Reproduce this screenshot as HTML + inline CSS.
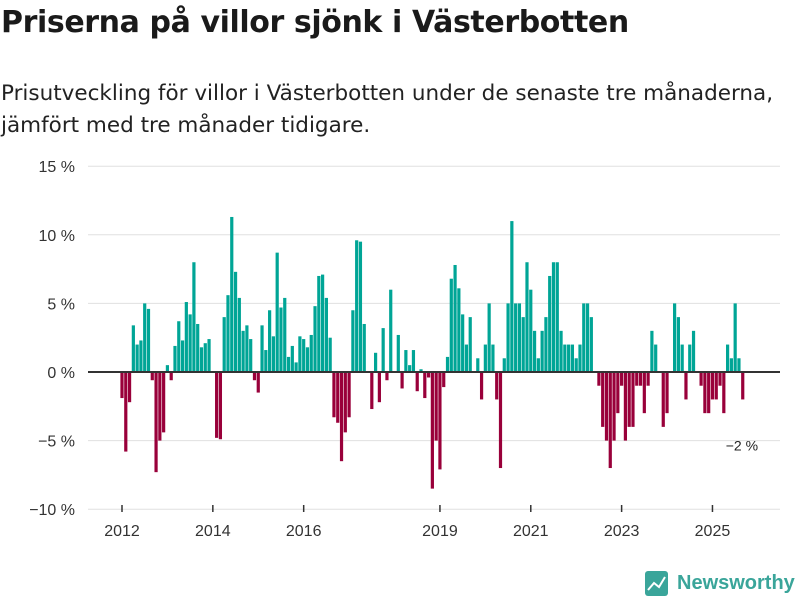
<!DOCTYPE html>
<html><head><meta charset="utf-8"><style>
body{margin:0;background:#fff;font-family:"Liberation Sans",sans-serif;}
#wrap{position:relative;width:800px;height:600px;overflow:hidden;}
h1{position:absolute;left:1px;top:5px;margin:0;font-family:"DejaVu Sans",sans-serif;font-size:30px;font-weight:bold;color:#1a1a1a;letter-spacing:-0.4px;white-space:nowrap;}
p.sub{position:absolute;left:1px;top:78px;margin:0;font-family:"DejaVu Sans",sans-serif;font-size:21.5px;line-height:32px;color:#222;white-space:nowrap;}
</style></head><body>
<div id="wrap">
<h1>Priserna på villor sjönk i Västerbotten</h1>
<p class="sub">Prisutveckling för villor i Västerbotten under de senaste tre månaderna,<br>jämfört med tre månader tidigare.</p>
<svg id="chart" width="800" height="600" style="position:absolute;left:0;top:0"></svg>
</div>
<script>
const values = [-1.9,-5.8,-2.2,3.4,2.0,2.3,5.0,4.6,-0.6,-7.3,
-5.0,-4.4,0.5,-0.6,1.9,3.7,2.3,5.1,4.2,8.0,
3.5,1.8,2.1,2.4,0,-4.8,-4.9,4.0,5.6,11.3,
7.3,5.4,3.0,3.4,2.4,-0.6,-1.5,3.4,1.6,4.5,
2.6,8.7,4.7,5.4,1.1,1.9,0.7,2.6,2.4,1.8,
2.7,4.8,7.0,7.1,5.4,2.5,-3.3,-3.7,-6.5,-4.4,
-3.3,4.5,9.6,9.5,3.5,0,-2.7,1.4,-2.2,3.2,
-0.6,6.0,0,2.7,-1.2,1.6,0.5,1.6,-1.4,0.2,
-1.9,-0.4,-8.5,-5.0,-7.1,-1.1,1.1,6.8,7.8,6.1,
4.2,2.0,4.0,0,1.0,-2.0,2.0,5.0,2.0,-2.0,
-7.0,1.0,5.0,11.0,5.0,5.0,4.0,8.0,6.0,3.0,
1.0,3.0,4.0,7.0,8.0,8.0,3.0,2.0,2.0,2.0,
1.0,2.0,5.0,5.0,4.0,0,-1.0,-4.0,-5.0,-7.0,
-5.0,-3.0,-1.0,-5.0,-4.0,-4.0,-1.0,-1.0,-3.0,-1.0,
3.0,2.0,0,-4.0,-3.0,0,5.0,4.0,2.0,-2.0,
2.0,3.0,0,-1.0,-3.0,-3.0,-2.0,-2.0,-1.0,-3.0,
2.0,1.0,5.0,1.0,-2.0];
const yTicks = [15,10,5,0,-5,-10];
const yTickLabels = ["15 %","10 %","5 %","0 %","−5 %","−10 %"];
const xTickYears = [2012,2014,2016,2019,2021,2023,2025];
const startYear = 2012;
const lastLabel = "−2 %";

const NS="http://www.w3.org/2000/svg";
const svg=document.getElementById('chart');
function xScale(i){return 122+i*3.785;}
function yScale(v){return 372-v*13.72;}
function mk(tag,attrs,parent){const e=document.createElementNS(NS,tag);for(const k in attrs)e.setAttribute(k,attrs[k]);(parent||svg).appendChild(e);return e;}

yTicks.forEach((t,k)=>{
  if(t!==0){
    const g=mk('line',{x1:88,x2:780,y1:yScale(t),y2:yScale(t),stroke:'#e0e0e0','stroke-width':1});
    
    
  }
  const tx=mk('text',{x:75,y:yScale(t)+6,'text-anchor':'end','font-size':16,fill:'#333','font-family':'Liberation Sans, sans-serif'});
  tx.textContent=yTickLabels[k];
  
  
});

values.forEach((v,i)=>{
  const y0=yScale(0),y1=yScale(v);
  const r=mk('rect',{x:xScale(i)-1.6,y:Math.min(y0,y1),width:3.2,height:Math.abs(y1-y0),fill:v>=0?'#00a596':'#99003a'});
  
  
});

const z=mk('line',{x1:88,x2:780,y1:yScale(0),y2:yScale(0),stroke:'#333','stroke-width':2});



xTickYears.forEach(yr=>{
  const x=xScale((yr-startYear)*12);
  const tk=mk('line',{x1:x,x2:x,y1:505,y2:512,stroke:'#333','stroke-width':1.5});
  
  
  const tx=mk('text',{x:x,y:536,'text-anchor':'middle','font-size':16,fill:'#333','font-family':'Liberation Sans, sans-serif'});
  tx.textContent=String(yr);
  
  
});

const last=values.length-1;
const lab=mk('text',{x:xScale(last)-17,y:yScale(values[last])+51,'font-size':14,fill:'#222','font-family':'Liberation Sans, sans-serif'});
lab.textContent=lastLabel;



const logo=mk('g',{});


mk('rect',{x:645,y:571,width:23,height:25,rx:3,fill:'#3aa59a'},logo);
mk('polyline',{points:'648,590 654,583 659,587 665,577',fill:'none',stroke:'#fff','stroke-width':2},logo);
const lt=mk('text',{x:677,y:589,'font-size':20,'font-weight':'bold',fill:'#3aa59a','font-family':'Liberation Sans, sans-serif'},logo);
lt.textContent='Newsworthy';
</script>
</body></html>
